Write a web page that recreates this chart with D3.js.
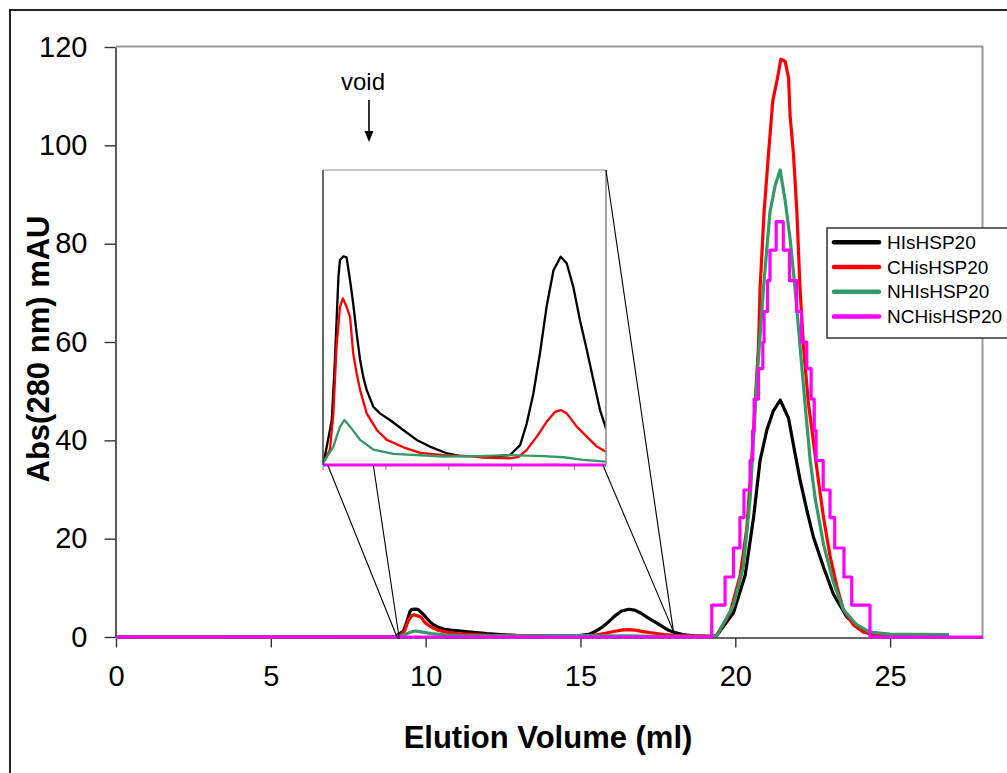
<!DOCTYPE html>
<html><head><meta charset="utf-8">
<script src="https://cdn.jsdelivr.net/npm/d3@7"></script>
<style>body{margin:0;background:#fff} svg{display:block} text{font-family:"Liberation Sans",Arial,Helvetica,sans-serif;fill:#000}</style>
</head><body><svg id="c" width="1007" height="773"></svg>
<script>
// ---------- data ----------
const seriesNames = ["HIsHSP20", "CHisHSP20", "NHIsHSP20", "NCHisHSP20"];
const xTicks = [0, 5, 10, 15, 20, 25];
const yTicks = [0, 20, 40, 60, 80, 100, 120];
const insetTicks = [9, 11, 13, 15, 17];
const voidVolume = 8.17;

const hisVol = [0, 9.0, 9.04, 9.28, 9.38, 9.49, 9.54, 9.65, 9.75, 9.86, 9.96, 10.07, 10.18, 10.28, 10.39, 10.60, 10.81, 11.13, 11.55, 11.98, 12.40, 12.93, 13.36, 14.52, 14.95, 15.27, 15.48, 15.69, 15.90, 16.11, 16.33, 16.56, 16.75, 16.96, 17.17, 17.39, 17.60, 17.81, 18.0, 18.3, 18.7, 19.2, 19.4, 19.94, 20.32, 20.59, 20.80, 21.02, 21.23, 21.45, 21.72, 21.88, 22.09, 22.31, 22.52, 22.85, 23.17, 23.60, 24.03, 24.35, 24.8, 26.0];
const hisAbs = [0, 0.05, 0.14, 1.22, 2.85, 5.10, 5.56, 5.66, 5.63, 5.01, 4.38, 3.57, 2.85, 2.39, 2.03, 1.58, 1.40, 1.22, 0.95, 0.68, 0.50, 0.32, 0.24, 0.24, 0.27, 0.54, 1.13, 1.94, 3.03, 4.29, 5.28, 5.65, 5.47, 4.83, 3.93, 3.12, 2.30, 1.49, 0.99, 0.5, 0.2, 0.1, 0.3, 4.9, 12.6, 24.3, 35.9, 42.1, 46.0, 48.2, 44.5, 39.0, 32.0, 25.8, 20.4, 14.2, 8.7, 4.1, 1.7, 0.6, 0.2, 0.1];

const chisVol = [0, 9.0, 9.22, 9.33, 9.43, 9.54, 9.63, 9.75, 9.86, 9.96, 10.07, 10.18, 10.39, 10.71, 11.03, 11.56, 12.09, 12.83, 13.68, 14.10, 14.95, 15.22, 15.48, 15.80, 16.11, 16.38, 16.56, 16.75, 17.07, 17.39, 17.71, 18.0, 18.5, 19.2, 19.4, 19.83, 20.16, 20.37, 20.53, 20.64, 20.75, 20.80, 20.93, 21.07, 21.21, 21.36, 21.47, 21.61, 21.72, 21.77, 21.88, 21.99, 22.09, 22.20, 22.36, 22.52, 22.68, 22.85, 23.06, 23.28, 23.49, 23.81, 24.14, 24.6, 26.0];
const chisAbs = [0, 0.05, 0.41, 1.40, 3.21, 4.29, 4.52, 4.29, 4.02, 3.03, 2.49, 2.03, 1.40, 0.95, 0.68, 0.48, 0.33, 0.27, 0.24, 0.20, 0.18, 0.22, 0.41, 0.77, 1.17, 1.44, 1.49, 1.40, 1.04, 0.77, 0.50, 0.36, 0.3, 0.2, 0.3, 4.9, 12.6, 22.0, 36.0, 47.6, 59.2, 70.9, 86.4, 98.1, 109.0, 113.6, 117.5, 117.1, 113.7, 106.0, 98.1, 86.4, 71.0, 59.2, 47.6, 39.9, 32.0, 24.3, 16.5, 10.3, 5.6, 2.5, 1.0, 0.4, 0.3];

const nhisVol = [0, 9.0, 9.33, 9.54, 9.68, 9.86, 10.18, 10.60, 11.24, 12.83, 13.89, 14.95, 16.01, 16.65, 17.28, 18.0, 19.0, 19.4, 19.94, 20.26, 20.48, 20.69, 20.91, 21.12, 21.29, 21.45, 21.61, 21.77, 21.93, 22.09, 22.25, 22.42, 22.58, 22.85, 23.17, 23.49, 23.92, 24.35, 25.0, 26.9];
const nhisAbs = [0, 0.05, 0.5, 1.04, 1.22, 1.04, 0.68, 0.42, 0.30, 0.23, 0.24, 0.27, 0.24, 0.21, 0.14, 0.09, 0.1, 0.3, 6.4, 14.2, 28.2, 51.5, 70.9, 86.4, 91.9, 95.0, 88.8, 81.0, 70.9, 59.2, 47.6, 35.9, 28.2, 18.8, 11.1, 5.6, 2.5, 1.0, 0.6, 0.5];

const nchisVol = [0, 19.24, 19.67, 19.94, 20.15, 20.28, 20.48, 20.56, 20.61, 20.75, 20.89, 20.93, 21.04, 21.12, 21.32, 21.55, 21.75, 21.98, 22.14, 22.31, 22.45, 22.55, 22.61, 22.84, 23.06, 23.21, 23.51, 23.76, 24.35, 28];
const nchisAbs = [0, 6.5, 12.2, 18.1, 24.3, 29.9, 35.9, 42.0, 48.4, 54.6, 60.0, 66.2, 72.5, 78.7, 84.5, 78.7, 72.5, 66.2, 60.0, 54.6, 48.4, 42.0, 35.9, 29.9, 24.3, 18.1, 12.2, 6.5, 0, 0];

// callout lines: start in inset coordinates, end in main-chart coordinates
const calloutStart = [[9.15, 0], [10.6, 0], [17.9, 0], [18, 8]];
const calloutEnd = [[9.1, -0.4], [9.15, -0.4], [18.0, 1.2], [18.0, 1.2]];

// ---------- styles ----------
const colors = ["#000000", "#ff0000", "#339966", "#ff00ff"];
const FONT = '"Liberation Sans",Arial,Helvetica,sans-serif';

const svg = d3.select("#c");
const series = [[hisVol, hisAbs], [chisVol, chisAbs], [nhisVol, nhisAbs], [nchisVol, nchisAbs]]
  .map(([v, a]) => v.map((d, i) => [d, a[i]]));

// outer chart border
svg.append("rect").attr("x", 10).attr("y", 10).attr("width", 1200).attr("height", 900)
  .attr("fill", "#fff").attr("stroke", "#222").attr("stroke-width", 2);

const x = d3.scaleLinear().domain([0, 28]).range([116, 983]);
const y = d3.scaleLinear().domain([0, 120]).range([637, 47]);

// plot area border (top & right)
svg.append("path").attr("d", `M${x(0)},${y(120) - 0.5}H${x(28) - 0.5}V${y(0)}`)
  .attr("fill", "none").attr("stroke", "#9a9a9a").attr("stroke-width", 2);

// axes
const ya = svg.append("g").attr("transform", `translate(${x(0) - 0.5},0)`)
  .call(d3.axisLeft(y).tickValues(yTicks).tickSize(11).tickPadding(17).tickSizeOuter(0));
const xa = svg.append("g").attr("transform", `translate(0,${y(0) + 0.5})`)
  .call(d3.axisBottom(x).tickValues(xTicks).tickSize(10).tickPadding(18).tickSizeOuter(0));
[ya, xa].forEach(g => {
  g.selectAll("path.domain").attr("stroke", "#333").attr("stroke-width", 1.6);
  g.selectAll(".tick line").attr("stroke", "#333").attr("stroke-width", 1.4);
  g.selectAll(".tick text").attr("font-family", FONT).attr("font-size", 29).attr("fill", "#000");
});

// series
const line = d3.line().x(d => x(d[0])).y(d => y(d[1]));
const stepLine = d3.line().x(d => x(d[0])).y(d => y(d[1])).curve(d3.curveStepAfter);
series.forEach((s, i) => {
  svg.append("path").datum(s).attr("d", i === 3 ? stepLine : line)
    .attr("fill", "none").attr("stroke", colors[i]).attr("stroke-width", 3.2)
    .attr("stroke-linejoin", "round");
});

// axis titles
svg.append("text").attr("x", 548).attr("y", 748).attr("text-anchor", "middle")
  .attr("font-size", 31).attr("font-weight", "bold").text("Elution Volume (ml)");
svg.append("text").attr("transform", "translate(49,349) rotate(-90)").attr("text-anchor", "middle")
  .attr("font-size", 31).attr("font-weight", "bold").text("Abs(280 nm) mAU");

// ---------- inset ----------
const xi = d3.scaleLinear().domain([9, 18]).range([323, 606]);
const yi = d3.scaleLinear().domain([0, 8]).range([465, 170]);
svg.append("rect").attr("x", xi(9)).attr("y", yi(8)).attr("width", xi(18) - xi(9)).attr("height", yi(0) - yi(8))
  .attr("fill", "#fff");
svg.append("defs").append("clipPath").attr("id", "ic").append("rect")
  .attr("x", xi(9)).attr("y", yi(8)).attr("width", xi(18) - xi(9)).attr("height", yi(0) - yi(8) + 3);
const ig = svg.append("g").attr("clip-path", "url(#ic)");
const iline = d3.line().x(d => xi(d[0])).y(d => yi(d[1]));
const istep = d3.line().x(d => xi(d[0])).y(d => yi(d[1])).curve(d3.curveStepAfter);
series.forEach((s, i) => {
  ig.append("path").datum(s).attr("d", i === 3 ? istep : iline)
    .attr("fill", "none").attr("stroke", colors[i]).attr("stroke-width", i === 3 ? 2.8 : 2.3)
    .attr("stroke-linejoin", "round");
});
// inset frame
svg.append("line").attr("x1", xi(9)).attr("x2", xi(18)).attr("y1", yi(8)).attr("y2", yi(8))
  .attr("stroke", "#b4b4b4").attr("stroke-width", 1.6);
svg.append("line").attr("x1", xi(18)).attr("x2", xi(18)).attr("y1", yi(8)).attr("y2", yi(0))
  .attr("stroke", "#8c8c8c").attr("stroke-width", 1.6);
svg.append("line").attr("x1", xi(9)).attr("x2", xi(9)).attr("y1", yi(8)).attr("y2", yi(0))
  .attr("stroke", "#444").attr("stroke-width", 1.6);
svg.selectAll("line.itick").data(insetTicks).join("line").attr("class", "itick")
  .attr("x1", d => xi(d)).attr("x2", d => xi(d)).attr("y1", yi(0) + 1).attr("y2", yi(0) + 5)
  .attr("stroke", "#777").attr("stroke-width", 1);

// callout lines
calloutStart.forEach((p, i) => {
  const q = calloutEnd[i];
  svg.append("line").attr("x1", xi(p[0])).attr("y1", yi(p[1])).attr("x2", x(q[0])).attr("y2", y(q[1]))
    .attr("stroke", "#000").attr("stroke-width", 1.1);
});

// void marker
svg.append("text").attr("x", x(voidVolume) - 6).attr("y", 90).attr("text-anchor", "middle")
  .attr("font-size", 24).text("void");
svg.append("line").attr("x1", x(voidVolume)).attr("x2", x(voidVolume)).attr("y1", 100).attr("y2", 133)
  .attr("stroke", "#000").attr("stroke-width", 1.6);
svg.append("path").attr("d", `M${x(voidVolume) - 4.5},131 L${x(voidVolume) + 4.5},131 L${x(voidVolume)},142 Z`)
  .attr("fill", "#000");

// legend
const lg = svg.append("g").attr("transform", "translate(827,228)");
lg.append("rect").attr("width", 260).attr("height", 110).attr("fill", "#fff")
  .attr("stroke", "#333").attr("stroke-width", 1.5);
seriesNames.forEach((n, i) => {
  const yy = 14.2 + i * 24.8;
  lg.append("line").attr("x1", 7).attr("x2", 52).attr("y1", yy).attr("y2", yy)
    .attr("stroke", colors[i]).attr("stroke-width", 4.5).attr("stroke-linecap", "round");
  lg.append("text").attr("x", 60).attr("y", yy).attr("dy", "0.35em").attr("font-size", 19).text(n);
});
</script></body></html>
